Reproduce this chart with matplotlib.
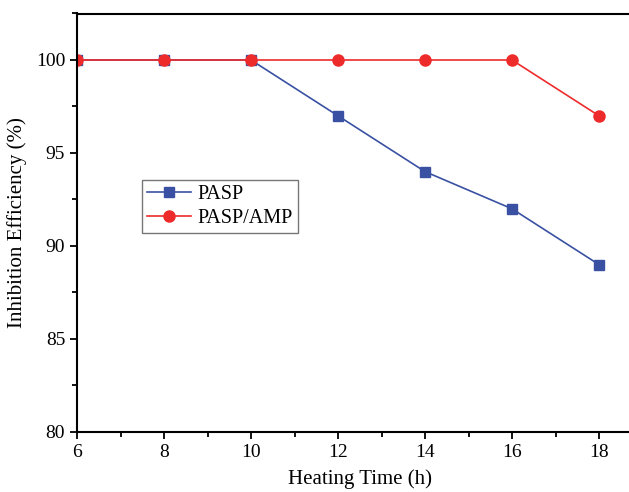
import matplotlib
matplotlib.use('Agg')
import matplotlib.pyplot as plt
from matplotlib.ticker import MultipleLocator

plt.rcParams['font.family'] = 'Liberation Serif'

# data
hours = [6, 8, 10, 12, 14, 16, 18]
pasp = [100, 100, 100, 97, 94, 92, 89]
pasp_amp = [100, 100, 100, 100, 100, 100, 97]

fig = plt.figure(figsize=(6.29, 4.92), dpi=100)
# axes runs off the right edge like the cropped original
ax = fig.add_axes([77/629, 60/492, 565.5/629, 418.5/492])

ax.plot(hours, pasp, color='#3a51a3', marker='s', markersize=7, lw=1.2, label='PASP')
ax.plot(hours, pasp_amp, color='#ee2b2b', marker='o', markersize=8, lw=1.2, label='PASP/AMP')

ax.set_xlim(6, 19)
ax.set_ylim(80, 102.5)
ax.xaxis.set_major_locator(MultipleLocator(2))
ax.xaxis.set_minor_locator(MultipleLocator(1))
ax.yaxis.set_major_locator(MultipleLocator(5))
ax.yaxis.set_minor_locator(MultipleLocator(2.5))
ax.tick_params(which='major', direction='out', length=5, width=1.3, labelsize=14)
ax.tick_params(which='minor', direction='out', length=3.5, width=1.3)
ax.spines['right'].set_visible(False)
for s in ['top', 'left', 'bottom']:
    ax.spines[s].set_linewidth(1.5)

ax.set_xlabel('Heating Time (h)', fontsize=15, labelpad=6)
ax.set_ylabel('Inhibition Efficiency (%)', fontsize=15, labelpad=6)

leg = ax.legend(loc='upper left', bbox_to_anchor=(0.115, 0.603), fontsize=14.5,
                frameon=True, fancybox=False, edgecolor='#555555', handlelength=2.2,
                borderpad=0.25, labelspacing=0.25, handletextpad=0.3, borderaxespad=0)
leg.get_frame().set_linewidth(1.0)

fig.savefig('out.png', dpi=100)
